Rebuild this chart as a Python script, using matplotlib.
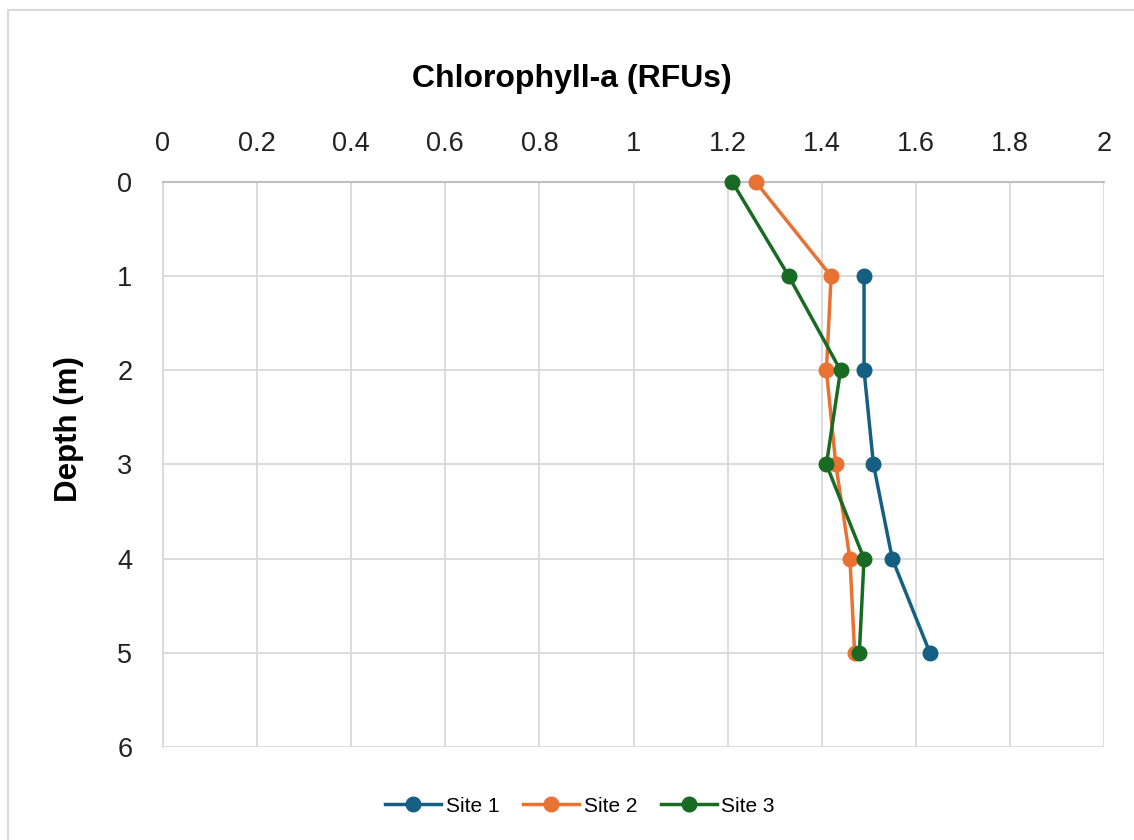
import matplotlib
matplotlib.use('Agg')
from matplotlib import pyplot as plt
from matplotlib.patches import Rectangle
import numpy as np

plt.rcParams['font.family'] = ['Liberation Sans', 'DejaVu Sans']

# depth in metres
depth_site1 = [1, 2, 3, 4, 5]
chl_site1 = [1.49, 1.49, 1.51, 1.55, 1.63]
depth_site23 = [0, 1, 2, 3, 4, 5]
chl_site2 = [1.26, 1.42, 1.41, 1.43, 1.46, 1.47]
chl_site3 = [1.21, 1.33, 1.44, 1.41, 1.49, 1.48]

site_names = ['Site 1', 'Site 2', 'Site 3']
site_colors = ['#156082', '#E97132', '#196B24']

x_ticks = [0, 0.2, 0.4, 0.6, 0.8, 1, 1.2, 1.4, 1.6, 1.8, 2]
x_tick_labels = ['0', '0.2', '0.4', '0.6', '0.8', '1', '1.2', '1.4', '1.6', '1.8', '2']
y_ticks = [0, 1, 2, 3, 4, 5, 6]

fig = plt.figure(figsize=(11.34, 8.4), dpi=100)
ax = fig.add_axes([163/1134, 1 - 747/840, (1104 - 163)/1134, (747 - 182)/840])

# outer chart border
fig.patches.append(Rectangle((8/1134, -0.05), 1.2, 1 - 10/840 + 0.05,
                             transform=fig.transFigure, fill=False,
                             edgecolor='#D9D9D9', linewidth=1.5))

series = [(chl_site1, depth_site1), (chl_site2, depth_site23), (chl_site3, depth_site23)]
for (xs, ys), name, col in zip(series, site_names, site_colors):
    ax.plot(xs, ys, color=col, linewidth=2.5, marker='o', markersize=10.5,
            label=name, zorder=3, clip_on=False)

ax.set_xlim(0, 2)
ax.set_ylim(6, 0)
ax.xaxis.tick_top()
ax.set_xticks(x_ticks)
ax.set_xticklabels(x_tick_labels)
ax.set_yticks(y_ticks)
ax.tick_params(axis='both', length=0, labelsize=19.5, colors='#222222')
ax.tick_params(axis='x', pad=18)
ax.tick_params(axis='y', pad=22)
ax.grid(True, color='#D9D9D9', linewidth=1.3)
ax.set_axisbelow(True)
for side in ['right', 'bottom']:
    ax.spines[side].set_visible(False)
ax.spines['top'].set_color('#BFBFBF')
ax.spines['top'].set_linewidth(1.5)
ax.spines['left'].set_color('#D9D9D9')
ax.spines['left'].set_linewidth(1.3)

fig.text(572/1134, 1 - 79/840, 'Chlorophyll-a (RFUs)', ha='center', va='center',
         fontsize=23, fontweight='bold', color='black')
fig.text(69/1134, 1 - 429/840, 'Depth (m)', ha='center', va='center',
         rotation=90, fontsize=22.5, fontweight='bold', color='black')

fig.legend(loc='center', bbox_to_anchor=(580/1134, 1 - 806/840), ncol=3,
           frameon=False, fontsize=15, handlelength=2.7, handletextpad=0.2,
           columnspacing=1.15, markerscale=1.0)

fig.savefig('out.png', dpi=100, facecolor='white')
